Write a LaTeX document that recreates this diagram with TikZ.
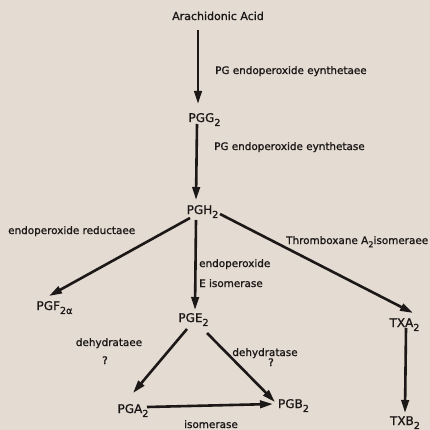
\documentclass[tikz,border=0pt]{standalone}
\usepackage{fontspec}
\setmainfont[BoldFont={DejaVu Sans}, BoldFeatures={FakeBold=1.2}]{DejaVu Sans}
\usepackage{xcolor}
\usetikzlibrary{arrows.meta}
\definecolor{paper}{RGB}{228,219,210}
\definecolor{ink}{RGB}{28,24,24}
\newcommand{\chemsub}[1]{\raisebox{-0.33em}{\scalebox{0.8}{#1}}}
\tikzset{
    compound/.style={anchor=base, inner sep=0pt, font=\bfseries\fontsize{12}{12}\selectfont, text=ink},
    enzyme/.style={anchor=base west, inner sep=0pt, font=\bfseries\fontsize{10.4}{11}\selectfont, text=ink},
    flow/.style={draw=ink, line width=2.6pt, -{Triangle[length=13pt, width=7.5pt]}}
}

\begin{document}
\begin{tikzpicture}[x=1pt, y=-1pt]
    \fill[paper] (0,0) rectangle (430,430);
    \useasboundingbox (0,0) rectangle (430,430);
    % compounds
    \node[compound, font=\bfseries\fontsize{11}{11}\selectfont] (acid) at (218,20) {Arachidonic Acid};
    \node[compound] (pgg) at (204.5,122) {PGG\chemsub{2}};
    \node[compound] (pgh) at (202.5,214) {PGH\chemsub{2}};
    \node[compound] (pgf) at (54.5,310) {PGF\chemsub{2α}};
    \node[compound] (pge) at (193.5,322) {PGE\chemsub{2}};
    \node[compound] (txa) at (404.5,327) {TXA\chemsub{2}};
    \node[compound] (pga) at (133,413) {PGA\chemsub{2}};
    \node[compound] (pgb) at (293.5,408) {PGB\chemsub{2}};
    \node[compound] (txb) at (405,425) {TXB\chemsub{2}};
    % enzymes
    \node[enzyme] (syn1) at (215,74) {PG endoperoxide eynthetaee};
    \node[enzyme] (syn2) at (214,150) {PG endoperoxide eynthetase};
    \node[enzyme] (red) at (8,234) {endoperoxide reductaee};
    \node[enzyme] (eiso1) at (199,267) {endoperoxide};
    \node[enzyme] (eiso2) at (199,287) {E isomerase};
    \node[enzyme] (txiso) at (286,244) {Thromboxane A\chemsub{2}isomeraee};
    \node[enzyme, anchor=base] (dehyl) at (109,346) {dehydrataee};
    \node[enzyme, anchor=base] (ql) at (105,364) {?};
    \node[enzyme, anchor=base] (dehyr) at (265,356) {dehydratase};
    \node[enzyme, anchor=base] (qr) at (271,366) {?};
    \node[enzyme, anchor=base] (iso) at (211,428) {isomerase};
    % arrows
    \draw[flow] ([shift={(-20,10)}]acid.base) -- ([shift={(-6.5,-18)}]pgg.base);
    \draw[flow] ([shift={(-7.5,2)}]pgg.base) -- ([shift={(-6.5,-14)}]pgh.base);
    \draw[flow] ([shift={(-12.5,4)}]pgh.base) -- ([shift={(-5.5,-14)}]pgf.base);
    \draw[flow] ([shift={(-6.5,6)}]pgh.base) -- ([shift={(1.5,-12)}]pge.base);
    \draw[flow] ([shift={(17.5,0)}]pgh.base) -- ([shift={(8.5,-14)}]txa.base);
    \draw[flow] ([shift={(-6.5,7)}]pge.base) -- ([shift={(0,-20)}]pga.base);
    \draw[flow] ([shift={(13.5,11)}]pge.base) -- ([shift={(-18.5,-6)}]pgb.base);
    \draw[flow] ([shift={(14,-6)}]pga.base) -- ([shift={(-20.5,-4)}]pgb.base);
    \draw[flow] ([shift={(1.5,1)}]txa.base) -- ([shift={(0,-12)}]txb.base);
\end{tikzpicture}
\end{document}
